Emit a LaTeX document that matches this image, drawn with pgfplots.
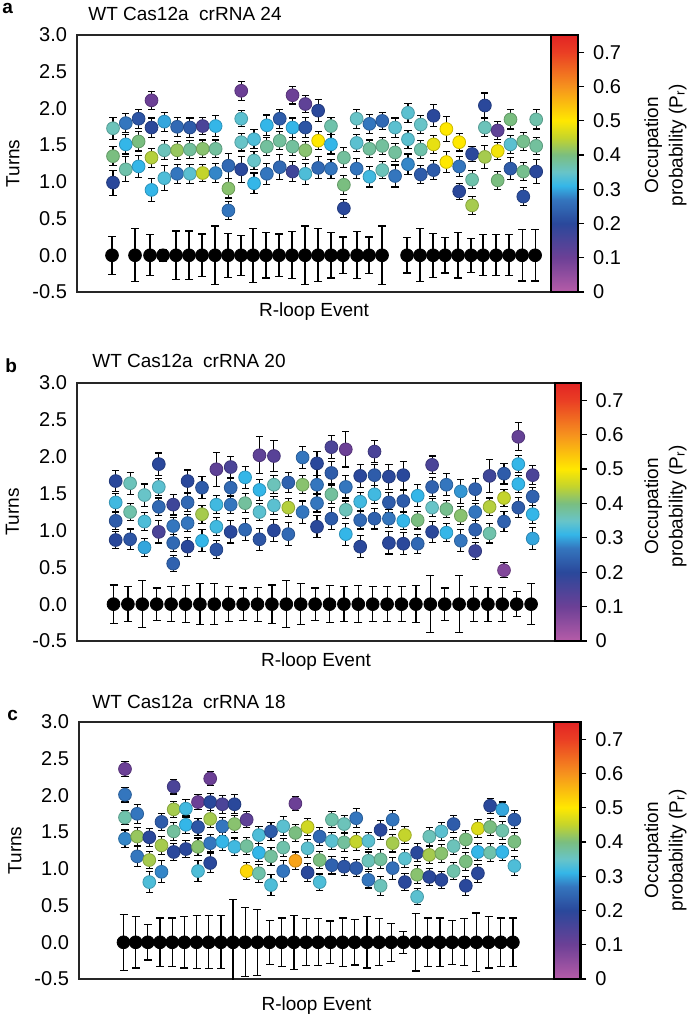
\documentclass[border=0pt]{standalone}
\usepackage{fontspec}
\setmainfont{Liberation Sans}
\usepackage{pgfplots}
\usepackage{pgfplotstable}
\pgfplotsset{compat=1.18}

% ---------- data: panel a (crRNA 24) ----------
\pgfplotstableread{
x y e
112 0 0.26
135 0 0.36
150 0 0.28
163 0 0.08
176 0 0.33
189 0 0.33
202 0 0.29
215 0 0.40
228 0 0.30
241 0 0.27
253 0 0.37
266 0 0.31
279 0 0.29
292 0 0.32
305 0 0.40
318 0 0.36
331 0 0.31
343 0 0.25
357 0 0.32
369 0 0.25
382 0 0.40
407 0 0.24
420 0 0.36
433 0 0.30
445 0 0.24
458 0 0.31
471 0 0.23
483 0 0.28
496 0 0.28
509 0 0.28
522 0 0.35
535 0 0.35
}\blackA
\pgfplotstableread{
x y c e
113.0 1.73 0.36 0.15
113.0 1.35 0.40 0.13
113.0 0.99 0.20 0.17
125.8 1.80 0.27 0.13
125.8 1.51 0.31 0.13
125.8 1.17 0.37 0.17
138.6 1.86 0.22 0.13
138.6 1.55 0.40 0.13
138.6 1.21 0.31 0.15
151.5 2.11 0.10 0.12
151.5 1.74 0.20 0.13
151.5 1.33 0.44 0.13
151.5 0.89 0.31 0.16
164.3 1.82 0.30 0.13
164.3 1.43 0.36 0.13
164.3 1.05 0.33 0.17
177.1 1.75 0.25 0.13
177.1 1.43 0.42 0.12
177.1 1.11 0.27 0.13
189.9 1.74 0.23 0.13
189.9 1.44 0.38 0.12
189.9 1.11 0.34 0.13
202.7 1.76 0.15 0.12
202.7 1.45 0.41 0.12
202.7 1.12 0.45 0.12
215.6 1.76 0.31 0.14
215.6 1.45 0.38 0.12
215.6 1.12 0.28 0.13
228.4 1.22 0.25 0.17
228.4 0.91 0.41 0.13
228.4 0.61 0.27 0.12
241.2 2.24 0.10 0.13
241.2 1.86 0.34 0.11
241.2 1.54 0.35 0.12
241.2 1.17 0.20 0.18
254.0 1.58 0.33 0.13
254.0 1.29 0.35 0.12
254.0 0.98 0.31 0.14
266.8 1.77 0.31 0.14
266.8 1.48 0.38 0.12
266.8 1.11 0.27 0.14
279.7 1.86 0.23 0.13
279.7 1.56 0.38 0.12
279.7 1.20 0.25 0.17
292.5 2.18 0.10 0.12
292.5 1.74 0.31 0.13
292.5 1.48 0.38 0.12
292.5 1.14 0.17 0.14
305.3 2.06 0.12 0.12
305.3 1.74 0.22 0.14
305.3 1.43 0.41 0.12
305.3 1.11 0.33 0.14
318.1 1.97 0.20 0.15
318.1 1.56 0.50 0.12
318.1 1.19 0.25 0.15
330.9 1.76 0.37 0.12
330.9 1.51 0.31 0.13
330.9 1.18 0.27 0.13
343.8 1.33 0.38 0.14
343.8 0.96 0.40 0.13
343.8 0.64 0.20 0.12
356.6 1.86 0.35 0.13
356.6 1.53 0.34 0.12
356.6 1.18 0.27 0.14
369.4 1.79 0.27 0.13
369.4 1.45 0.38 0.12
369.4 1.07 0.32 0.14
382.2 1.83 0.25 0.12
382.2 1.49 0.38 0.12
382.2 1.16 0.36 0.12
395.0 1.74 0.34 0.13
395.0 1.40 0.38 0.12
395.0 1.08 0.27 0.15
407.9 1.94 0.34 0.13
407.9 1.58 0.34 0.12
407.9 1.24 0.28 0.14
420.7 1.78 0.35 0.12
420.7 1.44 0.37 0.12
420.7 1.10 0.23 0.12
433.5 1.90 0.20 0.15
433.5 1.51 0.48 0.12
433.5 1.16 0.23 0.13
446.3 1.72 0.50 0.17
446.3 1.27 0.50 0.14
459.1 1.54 0.50 0.12
459.1 1.21 0.27 0.14
459.1 0.87 0.20 0.11
472.0 1.38 0.20 0.10
472.0 1.03 0.37 0.12
472.0 0.68 0.43 0.12
484.8 2.04 0.20 0.17
484.8 1.74 0.36 0.12
484.8 1.34 0.43 0.16
497.6 1.70 0.12 0.12
497.6 1.42 0.49 0.12
497.6 1.02 0.40 0.12
510.4 1.85 0.40 0.13
510.4 1.51 0.34 0.12
510.4 1.18 0.23 0.15
523.2 1.55 0.39 0.12
523.2 1.14 0.39 0.12
523.2 0.80 0.21 0.12
536.1 1.85 0.37 0.13
536.1 1.49 0.38 0.12
536.1 1.14 0.20 0.16
}\colA

% ---------- data: panel b (crRNA 20) ----------
\pgfplotstableread{
x y e
113.5 0 0.26
127.9 0 0.24
142.3 0 0.32
156.7 0 0.22
171.1 0 0.24
185.5 0 0.25
199.9 0 0.28
214.3 0 0.28
228.7 0 0.24
243.1 0 0.22
257.5 0 0.23
271.9 0 0.26
286.3 0 0.32
300.7 0 0.28
315.1 0 0.22
329.5 0 0.25
343.9 0 0.24
358.3 0 0.25
372.7 0 0.24
387.1 0 0.24
401.5 0 0.24
415.9 0 0.25
430.3 0 0.39
444.7 0 0.22
459.1 0 0.39
473.5 0 0.24
487.9 0 0.23
502.3 0 0.23
516.7 0 0.17
531.1 0 0.28
}\blackB
\pgfplotstableread{
x y c e
115.7 1.67 0.20 0.14
115.7 1.38 0.32 0.12
115.7 1.13 0.23 0.12
115.7 0.87 0.20 0.11
130.1 1.64 0.36 0.15
130.1 1.25 0.37 0.12
130.1 0.88 0.22 0.14
144.5 1.48 0.35 0.15
144.5 1.12 0.33 0.12
144.5 0.77 0.30 0.12
158.8 1.90 0.20 0.15
158.8 1.59 0.34 0.12
158.8 1.32 0.25 0.12
158.8 0.98 0.15 0.15
173.2 1.35 0.17 0.14
173.2 1.06 0.27 0.12
173.2 0.83 0.25 0.12
173.2 0.55 0.24 0.11
187.6 1.67 0.20 0.15
187.6 1.38 0.25 0.12
187.6 1.10 0.27 0.12
187.6 0.78 0.20 0.13
202.0 1.58 0.23 0.15
202.0 1.22 0.43 0.12
202.0 0.86 0.31 0.15
216.4 1.83 0.12 0.23
216.4 1.35 0.32 0.12
216.4 1.05 0.32 0.12
216.4 0.74 0.22 0.12
230.7 1.86 0.15 0.14
230.7 1.58 0.25 0.12
230.7 1.35 0.27 0.12
230.7 0.98 0.20 0.15
245.1 1.72 0.31 0.15
245.1 1.37 0.38 0.13
245.1 1.01 0.25 0.15
259.5 2.02 0.12 0.25
259.5 1.55 0.31 0.14
259.5 1.25 0.34 0.12
259.5 0.88 0.22 0.15
273.9 2.01 0.13 0.21
273.9 1.62 0.36 0.12
273.9 1.34 0.34 0.12
273.9 1.00 0.20 0.15
288.3 1.65 0.24 0.14
288.3 1.31 0.44 0.12
288.3 0.95 0.25 0.16
302.6 1.99 0.27 0.15
302.6 1.62 0.41 0.12
302.6 1.25 0.27 0.15
317.0 1.91 0.20 0.16
317.0 1.62 0.27 0.12
317.0 1.37 0.27 0.12
317.0 1.05 0.20 0.15
331.4 2.13 0.15 0.16
331.4 1.78 0.23 0.15
331.4 1.49 0.38 0.12
331.4 1.16 0.23 0.15
345.8 2.10 0.10 0.24
345.8 1.59 0.27 0.15
345.8 1.28 0.36 0.12
345.8 0.95 0.31 0.15
360.2 1.74 0.20 0.16
360.2 1.39 0.32 0.12
360.2 1.14 0.25 0.12
360.2 0.78 0.20 0.15
374.5 2.07 0.15 0.15
374.5 1.75 0.23 0.14
374.5 1.49 0.32 0.12
374.5 1.16 0.24 0.14
388.9 1.73 0.20 0.17
388.9 1.38 0.23 0.14
388.9 1.16 0.27 0.12
388.9 0.83 0.20 0.15
403.3 1.75 0.20 0.19
403.3 1.40 0.23 0.14
403.3 1.13 0.31 0.12
403.3 0.82 0.20 0.15
417.7 1.47 0.31 0.15
417.7 1.14 0.40 0.12
417.7 0.82 0.25 0.13
432.1 1.89 0.15 0.12
432.1 1.59 0.24 0.13
432.1 1.31 0.35 0.12
432.1 0.98 0.20 0.14
446.4 1.62 0.27 0.15
446.4 1.29 0.39 0.12
446.4 0.97 0.31 0.12
460.8 1.53 0.29 0.16
460.8 1.20 0.41 0.12
460.8 0.86 0.27 0.15
475.2 1.56 0.24 0.15
475.2 1.25 0.27 0.12
475.2 1.01 0.24 0.12
475.2 0.72 0.17 0.12
489.6 1.74 0.17 0.22
489.6 1.32 0.44 0.12
489.6 0.96 0.37 0.13
504.0 1.77 0.23 0.14
504.0 1.44 0.45 0.12
504.0 1.12 0.24 0.14
504.0 0.46 0.07 0.10
518.3 2.27 0.11 0.19
518.3 1.90 0.31 0.12
518.3 1.63 0.31 0.12
518.3 1.31 0.23 0.14
532.7 1.75 0.15 0.13
532.7 1.46 0.24 0.12
532.7 1.22 0.31 0.12
532.7 0.89 0.30 0.15
}\colB

% ---------- data: panel c (crRNA 18) ----------
\pgfplotstableread{
x y e
123.5 0 0.38
135.7 0 0.35
147.8 0 0.24
160.0 0 0.33
172.2 0 0.33
184.4 0 0.35
196.5 0 0.36
208.7 0 0.36
220.9 0 0.36
233.0 0 0.58
245.2 0 0.47
257.4 0 0.45
269.5 0 0.30
281.7 0 0.33
293.9 0 0.37
306.1 0 0.32
318.2 0 0.32
330.4 0 0.29
342.6 0 0.33
354.7 0 0.31
366.9 0 0.35
379.1 0 0.32
391.2 0 0.26
403.4 0 0.15
415.6 0 0.39
427.8 0 0.33
439.9 0 0.33
452.1 0 0.30
464.3 0 0.32
476.4 0 0.40
488.6 0 0.35
500.8 0 0.33
512.9 0 0.33
}\blackC
\pgfplotstableread{
x y c e
125.0 2.36 0.10 0.10
125.0 2.01 0.27 0.10
125.0 1.70 0.37 0.10
125.0 1.41 0.28 0.12
137.2 1.75 0.27 0.13
137.2 1.44 0.42 0.12
137.2 1.17 0.27 0.14
149.3 1.43 0.20 0.12
149.3 1.12 0.43 0.12
149.3 0.82 0.33 0.14
161.5 1.64 0.23 0.12
161.5 1.32 0.43 0.12
161.5 0.96 0.28 0.15
173.7 2.12 0.15 0.10
173.7 1.81 0.43 0.11
173.7 1.51 0.38 0.12
173.7 1.23 0.20 0.12
185.9 1.82 0.32 0.12
185.9 1.60 0.31 0.12
185.9 1.27 0.20 0.12
198.0 1.91 0.10 0.10
198.0 1.57 0.22 0.12
198.0 1.30 0.41 0.12
198.0 0.97 0.33 0.14
210.2 2.23 0.10 0.10
210.2 1.91 0.20 0.12
210.2 1.68 0.43 0.12
210.2 1.35 0.27 0.12
210.2 1.08 0.20 0.13
222.4 1.88 0.15 0.12
222.4 1.58 0.27 0.12
222.4 1.37 0.31 0.12
234.5 1.88 0.20 0.13
234.5 1.61 0.41 0.12
234.5 1.30 0.32 0.12
246.7 1.67 0.12 0.11
246.7 1.31 0.38 0.12
246.7 0.97 0.52 0.12
258.9 1.46 0.33 0.12
258.9 1.22 0.31 0.12
258.9 0.94 0.37 0.12
271.0 1.51 0.23 0.12
271.0 1.17 0.38 0.12
271.0 0.78 0.33 0.14
283.2 1.58 0.34 0.13
283.2 1.29 0.37 0.12
283.2 0.97 0.27 0.14
295.4 1.89 0.10 0.10
295.4 1.49 0.40 0.12
295.4 1.11 0.58 0.12
307.6 1.57 0.46 0.12
307.6 1.28 0.34 0.12
307.6 0.95 0.20 0.12
319.7 1.44 0.25 0.12
319.7 1.12 0.40 0.12
319.7 0.82 0.33 0.11
331.9 1.67 0.37 0.11
331.9 1.38 0.34 0.12
331.9 1.05 0.24 0.12
344.1 1.61 0.36 0.12
344.1 1.36 0.38 0.12
344.1 1.03 0.22 0.12
356.2 1.69 0.27 0.13
356.2 1.37 0.45 0.12
356.2 1.01 0.23 0.12
368.4 1.38 0.34 0.12
368.4 1.11 0.36 0.12
368.4 0.85 0.27 0.11
380.6 1.53 0.20 0.13
380.6 1.13 0.38 0.13
380.6 0.77 0.36 0.13
392.7 1.67 0.27 0.13
392.7 1.35 0.43 0.12
392.7 1.01 0.26 0.15
404.9 1.46 0.45 0.12
404.9 1.14 0.34 0.12
404.9 0.82 0.20 0.12
417.1 1.22 0.20 0.12
417.1 0.92 0.41 0.12
417.1 0.62 0.34 0.11
429.3 1.44 0.36 0.12
429.3 1.19 0.43 0.12
429.3 0.89 0.20 0.12
441.4 1.51 0.34 0.12
441.4 1.21 0.41 0.12
441.4 0.85 0.20 0.12
453.6 1.61 0.23 0.12
453.6 1.31 0.36 0.12
453.6 0.97 0.37 0.12
465.8 1.40 0.40 0.12
465.8 1.10 0.40 0.12
465.8 0.77 0.20 0.13
477.9 1.55 0.47 0.12
477.9 1.23 0.31 0.12
477.9 0.94 0.20 0.12
490.1 1.86 0.20 0.10
490.1 1.57 0.40 0.11
490.1 1.22 0.37 0.12
502.3 1.81 0.30 0.10
502.3 1.52 0.37 0.12
502.3 1.23 0.31 0.12
514.4 1.67 0.23 0.12
514.4 1.37 0.40 0.12
514.4 1.04 0.33 0.13
}\colC

\pgfplotsset{
  colormap={occ}{
    rgb255(0pt)=(182,92,168)
    rgb255(10pt)=(108,64,150)
    rgb255(20pt)=(42,72,155)
    rgb255(27pt)=(52,118,190)
    rgb255(31pt)=(52,182,232)
    rgb255(35pt)=(104,196,200)
    rgb255(40pt)=(122,190,128)
    rgb255(45pt)=(196,212,44)
    rgb255(50pt)=(255,232,0)
    rgb255(60pt)=(246,146,30)
    rgb255(70pt)=(234,62,36)
    rgb255(75pt)=(226,36,36)
  },
  colorbar shift/.style={xshift=0pt},
  turns/.style={
    scale only axis,
    anchor=south west,
    ymin=-0.5, ymax=3.0,
    xtick=\empty,
    ytick={-0.5,0,0.5,1,1.5,2,2.5,3},
    yticklabels={-0.5,0.0,0.5,1.0,1.5,2.0,2.5,3.0},
    major tick length=0pt,
    axis line style={black!85, line width=0.8pt},
    yticklabel style={font=\fontsize{10}{12}\selectfont, xshift=-1.5pt},
    ylabel={Turns},
    xlabel={R-loop Event},
    label style={font=\fontsize{9.5}{11}\selectfont},
    ylabel style={at={(axis description cs:-0.135,0.5)}, anchor=center},
    colorbar,
    colormap name=occ,
    point meta min=0, point meta max=0.75,
  },
  cbar/.style 2 args={colorbar style={
    at={(parent axis.north east)}, anchor=north west, xshift=0pt,
    scale only axis, width=#1, height=#2,
    xtick=\empty,
    ytick={0,0.1,0.2,0.3,0.4,0.5,0.6,0.7},
    yticklabels={0,0.1,0.2,0.3,0.4,0.5,0.6,0.7},
    yticklabel pos=right, ytick pos=right,
    major tick length=3pt, tick align=outside,
    tick style={black, line width=0.6pt},
    axis line style={black, line width=1.1pt},
    yticklabel style={font=\fontsize{10}{12}\selectfont, xshift=1pt},
    xlabel={}, ylabel={},
  }},
  blk/.style={black, only marks, mark=*, mark size=3.2pt,
    error bars/.cd, y dir=both, y explicit,
    error bar style={line width=0.6pt, black},
    error mark options={rotate=90, black, line width=0.6pt, mark size=2pt}},
  clr/.style={black, only marks, scatter, scatter src=explicit, mark=*, mark size=3.2pt,
    error bars/.cd, y dir=both, y explicit,
    error bar style={line width=0.55pt, black},
    error mark options={rotate=90, black, line width=0.55pt, mark size=1.8pt}},
}

\newcommand{\fsT}{\fontsize{9.5}{11}\selectfont}
\newcommand{\cblabel}{\fsT\begin{tabular}{@{}c@{}}Occupation\\[1.2pt]probability (P\textsubscript{r})\end{tabular}}

\begin{document}
\begin{tikzpicture}
\path[use as bounding box] (0pt,0pt) rectangle (344pt,-508pt);

% panel letters and titles
\node[anchor=base west, inner sep=0pt] at (1pt,-7pt) {\fsT\bfseries a};
\node[anchor=base west, inner sep=0pt] at (44pt,-10.5pt) {\fsT WT Cas12a\ \ crRNA 24};
\node[anchor=base west, inner sep=0pt] at (2.5pt,-186pt) {\fsT\bfseries b};
\node[anchor=base west, inner sep=0pt] at (46pt,-183.5pt) {\fsT WT Cas12a\ \ crRNA 20};
\node[anchor=base west, inner sep=0pt] at (3.5pt,-360pt) {\fsT\bfseries c};
\node[anchor=base west, inner sep=0pt] at (46pt,-354pt) {\fsT WT Cas12a\ \ crRNA 18};

% colorbar labels
\node[rotate=90, anchor=center, inner sep=0pt] at (333pt,-72.5pt) {\cblabel};
\node[rotate=90, anchor=center, inner sep=0pt] at (333pt,-253pt) {\cblabel};
\node[rotate=90, anchor=center, inner sep=0pt] at (333pt,-425pt) {\cblabel};

% ---- panel a ----
\begin{axis}[turns, at={(38.5pt,-146pt)}, width=237pt, height=128.5pt,
  xmin=77, xmax=551,
  xlabel style={at={(axis description cs:0.5,-0.075)}, anchor=center},
  cbar={13.5pt}{128.5pt}]
\addplot[blk] table[x=x, y=y, y error=e] {\blackA};
\addplot[clr] table[x=x, y=y, meta=c, y error=e] {\colA};
\end{axis}

% ---- panel b ----
\begin{axis}[turns, at={(38.5pt,-320.5pt)}, width=239pt, height=129pt,
  xmin=77, xmax=555,
  xlabel style={at={(axis description cs:0.5,-0.08)}, anchor=center},
  cbar={12.8pt}{129pt}]
\addplot[blk] table[x=x, y=y, y error=e] {\blackB};
\addplot[clr] table[x=x, y=y, meta=c, y error=e] {\colB};
\end{axis}

% ---- panel c ----
\begin{axis}[turns, at={(39.5pt,-489.5pt)}, width=237.5pt, height=128.5pt,
  xmin=79, xmax=554,
  xlabel style={at={(axis description cs:0.5,-0.105)}, anchor=center},
  cbar={13.2pt}{128.5pt}]
\addplot[blk] table[x=x, y=y, y error=e] {\blackC};
\addplot[clr] table[x=x, y=y, meta=c, y error=e] {\colC};
\end{axis}
\end{tikzpicture}
\end{document}
